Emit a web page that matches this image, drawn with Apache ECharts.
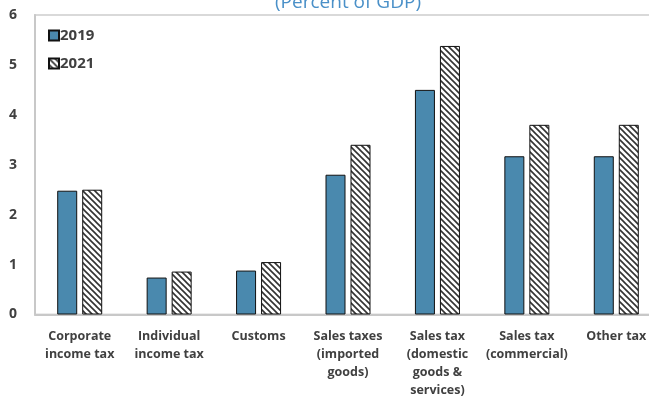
<!DOCTYPE html>
<html><head><meta charset="utf-8">
<script src="https://cdn.jsdelivr.net/npm/echarts@6/dist/echarts.min.js"></script>
<style>html,body{margin:0;padding:0;overflow:hidden;background:#fff;width:649px;height:396px}#c{width:661px;height:396px}</style>
</head><body><div id="c"></div>
<script>
const categories = ["Corporate\nincome tax","Individual\nincome tax","Customs","Sales taxes\n(imported\ngoods)","Sales tax\n(domestic\ngoods &\nservices)","Sales tax\n(commercial)","Other tax"];
const values2019 = [2.48, 0.74, 0.88, 2.80, 4.50, 3.17, 3.17];
const values2021 = [2.50, 0.86, 1.05, 3.40, 5.38, 3.80, 3.80];
const yTicks = [0,1,2,3,4,5,6];

function hatch(){
  const c = document.createElement('canvas');
  c.width = 6; c.height = 6;
  const g = c.getContext('2d');
  g.fillStyle = '#fff'; g.fillRect(0,0,6,6);
  g.strokeStyle = '#333'; g.lineWidth = 1.6;
  g.beginPath();
  g.moveTo(-1,-1); g.lineTo(7,7);
  g.moveTo(-4,2); g.lineTo(4,10);
  g.moveTo(2,-4); g.lineTo(10,4);
  g.stroke();
  return c;
}
const hatchFill = {image: hatch(), repeat: 'repeat'};
const font = '"Open Sans", sans-serif';
const chart = echarts.init(document.getElementById('c'), null, {renderer:'canvas'});
chart.setOption({
  animation:false,
  title:{text:'(Percent of GDP)', left:270, top:-12,
    textStyle:{color:'#4a90c8', fontWeight:'normal', fontSize:19, fontFamily:font}},
  legend:{orient:'vertical', left:43, top:23, itemWidth:10, itemHeight:10, itemGap:13, icon:'rect',
    textStyle:{color:'#404040', fontWeight:'bold', fontSize:15, fontFamily:font, padding:[0,0,0,-4]},
    data:['2019','2021']},
  grid:{left:35, right:0, top:15, bottom:81.5, show:true, borderColor:'#d9d9d9', borderWidth:2,
    containLabel:false, outerBoundsMode:'none'},
  xAxis:{type:'category', data:categories,
    axisLine:{lineStyle:{color:'#c8c8c8', width:2}},
    axisTick:{inside:true, length:4, lineStyle:{color:'#c8c8c8'}},
    axisLabel:{interval:0, margin:13, color:'#404040', fontWeight:'bold', fontSize:12.5, lineHeight:18, fontFamily:font}},
  yAxis:{type:'value', min:0, max:6, interval:1,
    axisLine:{show:true, lineStyle:{color:'#c8c8c8', width:2}},
    axisTick:{show:false}, splitLine:{show:false},
    axisLabel:{margin:18, color:'#404040', fontWeight:'bold', fontSize:14, fontFamily:font,
      formatter:v=>yTicks.includes(v)?String(v):''}},
  series:[
    {name:'2019', type:'bar', data:values2019, barWidth:20, barGap:'25%',
      itemStyle:{color:'#4a89ae', borderColor:'#111', borderWidth:1}},
    {name:'2021', type:'bar', data:values2021, barWidth:20,
      itemStyle:{color:hatchFill, borderColor:'#111', borderWidth:1}}
  ]
});
</script></body></html>
